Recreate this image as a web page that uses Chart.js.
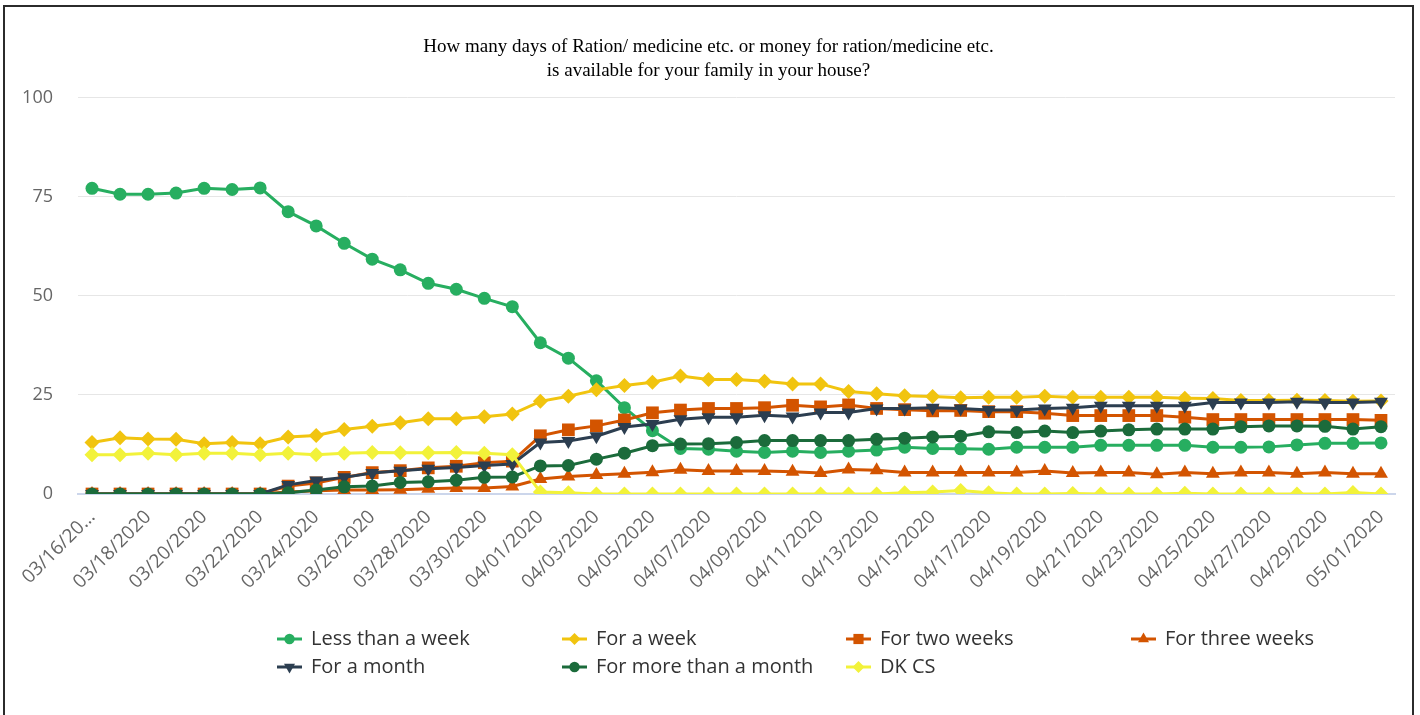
<!DOCTYPE html>
<html>
<head>
<meta charset="utf-8">
<script src="https://cdn.jsdelivr.net/npm/chart.js@4.4.0/dist/chart.umd.min.js"></script>
<style>
html,body{margin:0;padding:0;background:#fff;}
#wrap{position:relative;width:1420px;height:715px;overflow:hidden;}
#frame{position:absolute;left:3px;top:5px;width:1411px;height:760px;border:2px solid #2b2b2b;box-sizing:border-box;pointer-events:none;}
canvas{position:absolute;left:0;top:0;}
</style>
</head>
<body>
<div id="wrap"><canvas id="c" width="1420" height="715"></canvas><div id="frame"></div></div>
<script>
const categories = [
  "03/16/2020","03/17/2020","03/18/2020","03/19/2020","03/20/2020","03/21/2020","03/22/2020","03/23/2020",
  "03/24/2020","03/25/2020","03/26/2020","03/27/2020","03/28/2020","03/29/2020","03/30/2020","03/31/2020",
  "04/01/2020","04/02/2020","04/03/2020","04/04/2020","04/05/2020","04/06/2020","04/07/2020","04/08/2020",
  "04/09/2020","04/10/2020","04/11/2020","04/12/2020","04/13/2020","04/14/2020","04/15/2020","04/16/2020",
  "04/17/2020","04/18/2020","04/19/2020","04/20/2020","04/21/2020","04/22/2020","04/23/2020","04/24/2020",
  "04/25/2020","04/26/2020","04/27/2020","04/28/2020","04/29/2020","04/30/2020","05/01/2020"
];

const lessThanAWeek = [77.2,75.7,75.7,76.0,77.2,76.9,77.3,71.3,67.7,63.3,59.3,56.6,53.2,51.7,49.4,47.3,
  38.2,34.3,28.6,21.8,16.0,11.5,11.3,10.8,10.5,10.8,10.5,10.8,11.1,11.8,11.5,11.4,
  11.3,11.8,11.8,11.8,12.3,12.3,12.3,12.3,11.8,11.8,11.9,12.4,12.8,12.8,12.9];
const forAWeek = [13.0,14.2,13.9,13.8,12.7,13.0,12.7,14.4,14.8,16.3,17.1,18.0,19.0,19.0,19.5,20.2,
  23.4,24.7,26.3,27.4,28.2,29.8,28.9,28.9,28.5,27.8,27.8,25.9,25.3,24.8,24.6,24.3,
  24.4,24.4,24.7,24.4,24.4,24.4,24.4,24.2,24.1,23.6,23.6,23.7,23.6,23.4,23.5];
const forTwoWeeks = [0,0,0,0,0,0,0,2.0,2.8,4.2,5.4,5.9,6.6,7.0,7.9,8.3,
  14.7,16.2,17.2,18.7,20.5,21.2,21.6,21.6,21.8,22.4,22.0,22.5,21.6,21.3,21.0,21.1,
  20.8,20.8,20.4,19.8,19.8,19.8,19.8,19.4,18.8,18.8,18.8,18.8,18.8,18.8,18.6];
const forThreeWeeks = [0,0,0,0,0,0,0,0.5,0.8,1.0,1.0,1.1,1.3,1.5,1.5,1.9,
  3.8,4.4,4.8,5.1,5.5,6.1,5.8,5.8,5.8,5.6,5.3,6.2,6.0,5.4,5.4,5.4,
  5.4,5.4,5.8,5.3,5.4,5.4,5.0,5.4,5.1,5.4,5.4,5.1,5.4,5.1,5.1];
const forAMonth = [0,0,0,0,0,0,0,2.3,3.4,4.2,5.3,5.9,6.4,6.7,7.2,7.6,
  13.0,13.4,14.6,16.9,17.7,18.9,19.4,19.4,19.9,19.6,20.6,20.6,21.6,21.6,21.8,21.6,
  21.2,21.2,21.6,21.8,22.3,22.3,22.3,22.3,23.1,23.1,23.1,23.3,23.1,23.1,23.3];
const moreThanAMonth = [0,0,0,0,0,0,0,0.3,1.0,1.8,2.0,2.9,3.1,3.5,4.2,4.3,
  7.1,7.2,8.8,10.3,12.2,12.6,12.7,13.0,13.5,13.5,13.5,13.5,13.8,14.1,14.4,14.6,
  15.7,15.5,15.9,15.5,15.9,16.2,16.4,16.4,16.4,17.0,17.2,17.2,17.1,16.4,17.0];
const dkCs = [9.9,9.9,10.3,9.9,10.3,10.3,9.9,10.3,9.9,10.3,10.5,10.4,10.4,10.5,10.3,9.9,
  0.5,0.3,0,0,0,0,0,0,0,0,0,0,0,0.3,0.5,0.9,
  0.3,0,0,0.1,0,0,0,0.2,0,0,0,0,0,0.4,0];

const seriesNames = ["Less than a week","For a week","For two weeks","For three weeks","For a month","For more than a month","DK CS"];
const seriesColors = ["#27ae60","#f1c40f","#d35400","#d35400","#2c3e50","#1b6b3b","#f2f23a"];
const seriesValues = [lessThanAWeek, forAWeek, forTwoWeeks, forThreeWeeks, forAMonth, moreThanAMonth, dkCs];
const seriesStyles = ["circle","rectRot","rect","triangle","triangle","circle","rectRot"];
const seriesRotations = [0,0,0,0,180,0,0];
const seriesRadius = [6.5,7.5,9,8,8,6.5,7.5];

const yTicks = [0,25,50,75,100];
const titleLines = ["How many days of Ration/ medicine etc. or money for ration/medicine etc.","is available for your family in your house?"];

const legendCols = [277, 562, 846, 1131];
const legendRows = [639, 667];

const gridLegend = {
  id: 'gridLegend',
  afterDraw(chart) {
    const ctx = chart.ctx;
    ctx.save();
    chart.data.datasets.forEach((ds, i) => {
      const x = legendCols[i % 4], y = legendRows[Math.floor(i / 4)];
      ctx.strokeStyle = ds.borderColor;
      ctx.lineWidth = 3;
      ctx.beginPath(); ctx.moveTo(x, y); ctx.lineTo(x + 25, y); ctx.stroke();
      ctx.fillStyle = ds.borderColor;
      Chart.helpers.drawPoint(ctx, {pointStyle: ds.pointStyle, rotation: ds.pointRotation || 0, radius: ds.pointRadius * 0.8, borderWidth: 0}, x + 12.5, y);
      ctx.fillStyle = '#333333';
      ctx.font = '20px "Open Sans"';
      ctx.textAlign = 'left';
      ctx.textBaseline = 'middle';
      ctx.fillText(ds.label, x + 34, y);
    });
    ctx.restore();
  }
};

const datasets = seriesNames.map((name, i) => ({
  label: name,
  data: seriesValues[i],
  borderColor: seriesColors[i],
  backgroundColor: seriesColors[i],
  pointBackgroundColor: seriesColors[i],
  pointBorderWidth: 0,
  pointStyle: seriesStyles[i],
  pointRotation: seriesRotations[i],
  pointRadius: seriesRadius[i],
  pointHoverRadius: seriesRadius[i],
  borderWidth: 3,
  tension: 0,
  order: seriesNames.length - 1 - i
}));

new Chart(document.getElementById('c'), {
  type: 'line',
  data: { labels: categories, datasets },
  plugins: [gridLegend],
  options: {
    responsive: false,
    animation: false,
    devicePixelRatio: 1,
    layout: { padding: { left: 22, right: 25, top: 0, bottom: 0 } },
    plugins: {
      legend: { display: false },
      tooltip: { enabled: false },
      title: {
        display: true,
        text: titleLines,
        color: '#000000',
        font: { family: '"Liberation Serif", "Times New Roman", serif', size: 19, weight: 'normal', lineHeight: 1.263 },
        padding: { top: 35, bottom: 15 }
      }
    },
    scales: {
      x: {
        offset: true,
        afterFit(scale) { scale.height = 221; },
        grid: { display: false, drawTicks: false },
        border: { display: true, color: '#ccd6eb', width: 2 },
        ticks: {
          autoSkip: false,
          maxRotation: 45,
          minRotation: 45,
          padding: 12,
          color: '#666666',
          font: { family: '"Open Sans"', size: 19 },
          callback(value, index) {
            if (index % 2 !== 0) return null;
            const lbl = categories[index];
            return index === 0 ? lbl.slice(0, 8) + '\u2026' : lbl;
          }
        }
      },
      y: {
        min: 0,
        max: 100,
        afterFit(scale) { scale.width = 56; },
        afterBuildTicks(scale) { scale.ticks = yTicks.map(v => ({ value: v })); },
        grid: { color: '#e6e6e6', lineWidth: 1, drawTicks: false },
        border: { display: false },
        ticks: {
          padding: 25,
          color: '#666666',
          font: { family: '"Open Sans"', size: 18 }
        }
      }
    }
  }
});
</script>
</body>
</html>
